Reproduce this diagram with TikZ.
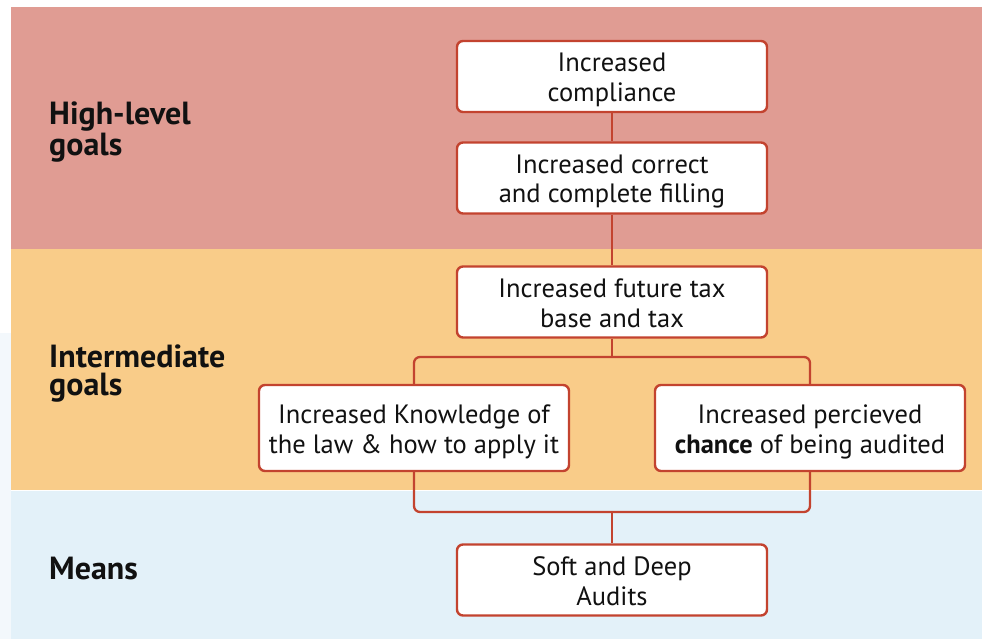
\documentclass[tikz,border=0pt]{standalone}
\usepackage{fontspec}
\setmainfont{PT Sans}
\definecolor{bandred}{HTML}{E09C93}
\definecolor{bandorange}{HTML}{F9CC89}
\definecolor{bandblue}{HTML}{E3F1F9}
\definecolor{paleblue}{HTML}{F3F8FC}
\definecolor{stroke}{HTML}{C3432F}
\definecolor{ink}{HTML}{111111}
\pgfdeclarelayer{bands}
\pgfdeclarelayer{links}
\pgfsetlayers{bands,links,main}
\tikzset{
  goalbox/.style={draw=stroke, line width=2.4pt, fill=white, rounded corners=6pt,
    minimum width=310pt, minimum height=71pt, align=center, inner sep=0pt,
    text height=57pt, text depth=7pt,
    text=ink, font=\fontsize{26.5}{29.5}\selectfont},
  bandlabel/.style={anchor=west, align=left, inner sep=0pt, text=ink,
    font=\fontsize{32}{27.5}\selectfont\bfseries},
  link/.style={draw=stroke, line width=2.3pt, rounded corners=6pt}
}
\begin{document}
\begin{tikzpicture}[x=1pt,y=-1pt]
  \useasboundingbox (0,0) rectangle (982,639);

  % goal boxes
  \node[goalbox] (comp) at (612,76.5) {Increased\\compliance};
  \node[goalbox] (fill) at (612,178) {Increased correct\\and complete filling};
  \node[goalbox] (base) at (612,302) {Increased future tax\\base and tax};
  \node[goalbox, minimum height=86pt] (know) at (414,428) {Increased Knowledge of\\the law \& how to apply it};
  \node[goalbox, minimum height=86pt] (audit) at (810,428) {Increased percieved\\\textbf{chance} of being audited};
  \node[goalbox] (means) at (612,580) {Soft and Deep\\Audits};

  % band labels
  \node[bandlabel] (lhigh) at (49,132) {High-level\\goals};
  \node[bandlabel] (lmid) at (49,373.5) {Intermediate\\goals};
  \node[bandlabel] (lmeans) at (49,569) {Means};

  % background bands
  \begin{pgfonlayer}{bands}
    \fill[white] (0,0) rectangle (982,639);
    \fill[paleblue] (0,333) rectangle (11,639);
    \fill[bandred] (11,7) rectangle (982,249);
    \fill[bandorange] (11,249) rectangle (982,490);
    \fill[bandblue] (11,490) rectangle (982,639);
    \draw[white, line width=0.8pt] (11,490) -- (982,490);
  \end{pgfonlayer}

  % connectors
  \coordinate (split) at (612,357);
  \coordinate (join) at (612,512);
  \begin{pgfonlayer}{links}
    \draw[link] (comp.south) -- (fill.north);
    \draw[link] (fill.south) -- (base.north);
    \draw[link] (base.south) -- (split);
    \draw[link] (know.north) |- (split) -| (audit.north);
    \draw[link] (know.south) |- (join) -| (audit.south);
    \draw[link] (join) -- (means.north);
  \end{pgfonlayer}
\end{tikzpicture}
\end{document}
